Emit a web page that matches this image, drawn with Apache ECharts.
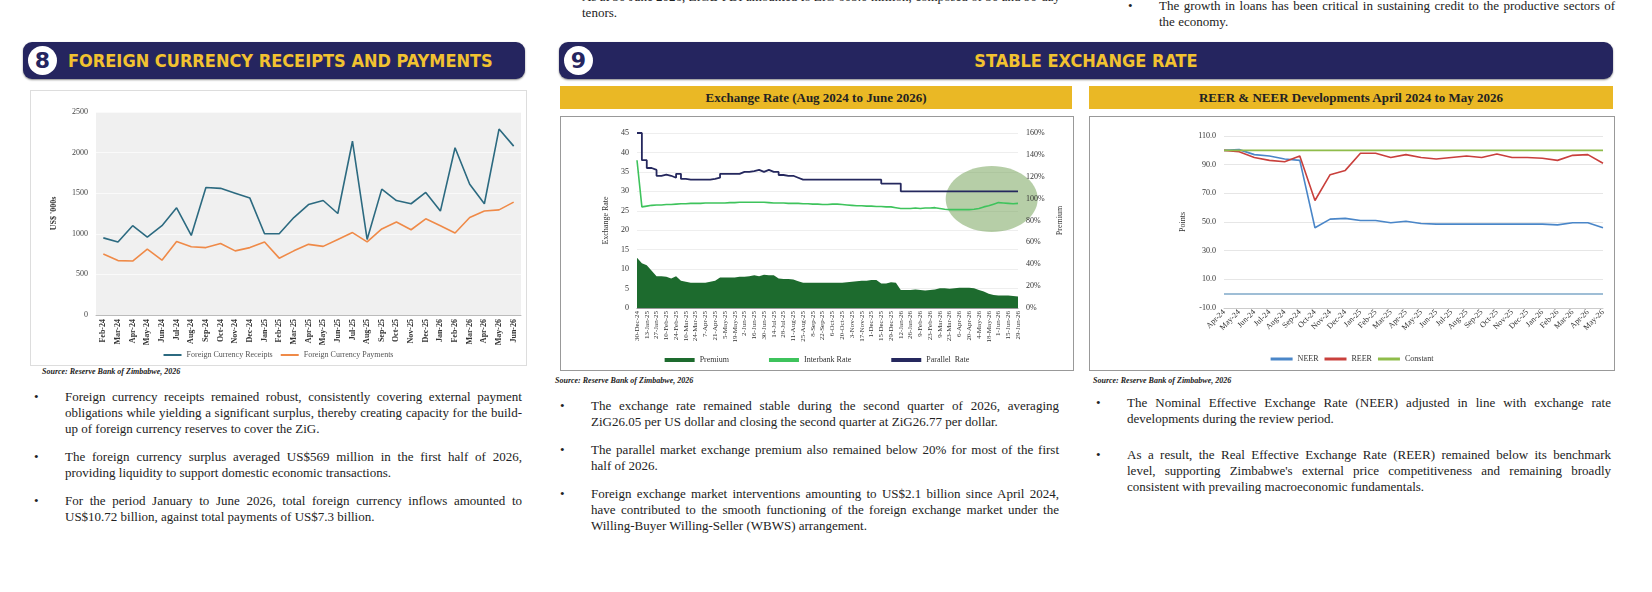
<!DOCTYPE html>
<html>
<head>
<meta charset="utf-8">
<script src="https://cdn.jsdelivr.net/npm/echarts@6/dist/echarts.min.js"></script>
<style>
body{margin:0;width:1652px;height:592px;background:#fff;position:relative;overflow:hidden;font-family:"Liberation Serif",serif;color:#222}
.hdr{position:absolute;background:#25255f;border-radius:9px;box-shadow:0 1px 2px #888;color:#f2c230;font-family:"DejaVu Sans Condensed","Liberation Sans",sans-serif;font-weight:bold;font-size:18px;line-height:37px;height:37px}
.num{position:absolute;left:5px;top:4px;width:29px;height:29px;border-radius:50%;background:#fff;color:#25255f;font-size:22px;line-height:29px;text-align:center;font-family:"DejaVu Sans",sans-serif;font-weight:bold}
.ybar{position:absolute;background:#eab825;color:#222;font-weight:bold;font-size:13px;text-align:center;line-height:23px;height:23px}
.box{position:absolute;border:1px solid #999;background:#fff}
.src{position:absolute;font-size:8px;font-style:italic;font-weight:bold}
.bul{position:absolute;font-size:13px;line-height:16px;text-align:justify}
.bul p{margin:0 0 12px 0;position:relative}
.bul p:before{content:"•";position:absolute;left:-31px}
</style>
</head>
<body>
<div class="bul" style="left:582px;top:-11px;width:478px"><p style="margin:0">As at 30 June 2026, ZiGB FDI amounted to ZiG 605.0 million, composed of 30 and 90-day tenors.</p></div>
<div class="bul" style="left:1159px;top:-2px;width:456px"><p style="margin:0">The growth in loans has been critical in sustaining credit to the productive sectors of the economy.</p></div>

<div class="hdr" style="left:23px;top:42px;width:502px"><div class="num">8</div><span style="position:absolute;left:45px">FOREIGN CURRENCY RECEIPTS AND PAYMENTS</span></div>
<div class="hdr" style="left:559px;top:42px;width:1054px;text-align:center"><div class="num">9</div>STABLE EXCHANGE RATE</div>

<div class="box" style="left:30px;top:90px;width:495px;height:274px;border-color:#ddd"><div id="c1" style="width:495px;height:274px"></div></div>
<div class="src" style="left:42px;top:367px">Source: Reserve Bank of Zimbabwe, 2026</div>

<div class="ybar" style="left:560px;top:86px;width:512px">Exchange Rate (Aug 2024 to June 2026)</div>
<div class="box" style="left:560px;top:116px;width:512px;height:253px"><div id="c2" style="width:512px;height:253px"></div></div>
<div class="src" style="left:555px;top:376px">Source: Reserve Bank of Zimbabwe, 2026</div>

<div class="ybar" style="left:1089px;top:86px;width:524px">REER &amp; NEER Developments April 2024 to May 2026</div>
<div class="box" style="left:1089px;top:116px;width:524px;height:253px"><div id="c3" style="width:524px;height:253px"></div></div>
<div class="src" style="left:1093px;top:376px">Source: Reserve Bank of Zimbabwe, 2026</div>

<div class="bul" style="left:65px;top:389px;width:457px">
<p>Foreign currency receipts remained robust, consistently covering external payment obligations while yielding a significant surplus, thereby creating capacity for the build-up of foreign currency reserves to cover the ZiG.</p>
<p>The foreign currency surplus averaged US$569 million in the first half of 2026, providing liquidity to support domestic economic transactions.</p>
<p>For the period January to June 2026, total foreign currency inflows amounted to US$10.72 billion, against total payments of US$7.3 billion.</p>
</div>
<div class="bul" style="left:591px;top:398px;width:468px">
<p>The exchange rate remained stable during the second quarter of 2026, averaging ZiG26.05&nbsp;per US dollar and closing the second quarter at ZiG26.77 per dollar.</p>
<p>The parallel market exchange premium also remained below 20% for most of the first half of 2026.</p>
<p>Foreign exchange market interventions amounting to US$2.1 billion since April 2024, have contributed to the smooth functioning of the foreign exchange market under the Willing-Buyer Willing-Seller (WBWS) arrangement.</p>
</div>
<div class="bul" style="left:1127px;top:395px;width:484px">
<p style="margin-bottom:20px">The Nominal Effective Exchange Rate (NEER) adjusted in line with exchange rate developments during the review period.</p>
<p>As a result, the Real Effective Exchange Rate (REER) remained below its benchmark level,&nbsp;supporting Zimbabwe's external price competitiveness and remaining broadly consistent with prevailing macroeconomic fundamentals.</p>
</div>

<script>
// chart 8 data
var months1 = ['Feb-24','Mar-24','Apr-24','May-24','Jun-24','Jul-24','Aug-24','Sep-24','Oct-24','Nov-24','Dec-24','Jan-25','Feb-25','Mar-25','Apr-25','May-25','Jun-25','Jul-25','Aug-25','Sep-25','Oct-25','Nov-25','Dec-25','Jan-26','Feb-26','Mar-26','Apr-26','May-26','Jun-26'];
var receipts = [950,900,1100,960,1100,1320,980,1570,1560,1500,1440,1000,1000,1200,1360,1410,1250,2140,930,1550,1410,1370,1510,1280,2060,1610,1370,2290,2080];
var payments = [750,670,665,810,675,905,840,830,880,790,830,900,700,790,870,845,930,1015,900,1060,1145,1050,1185,1100,1010,1200,1280,1295,1390];

// chart 9 data (weekly from 30-Dec-24)
var parallelRate = [45,38,36,35.5,34,34.3,34,33.5,34.5,33.2,33,33,33,33,33,33.2,33.5,34.5,34.5,34.5,34.5,35,35,35.2,35.5,35,35.5,35,35,34.2,34,34,33.5,33,33,33,33,33,33,33,33,33,33,33,33,33,33,33,33,33,32,32,32,32,30,30,30,30,30,30,30,30,30,30,30,30,30,30,30,30,30,30,30,30,30,30,30,30,30];
var interbank = [38,26,26.2,26.4,26.5,26.5,26.6,26.6,26.7,26.8,26.8,26.9,26.9,26.9,27,27,27,27,27,27.1,27.1,27.2,27.2,27.2,27.2,27.2,27.2,27.1,27,27,27,26.9,26.9,26.9,26.8,26.8,26.7,26.7,26.6,26.6,26.7,26.7,26.6,26.5,26.4,26.3,26.3,26.2,26.2,26.1,26.1,26,26,25.8,25.6,25.6,25.6,25.7,25.6,25.7,25.7,25.8,25.6,25.4,25.3,25.3,25.3,25.3,25.3,25.4,25.6,26,26.3,26.7,27.1,27,26.9,26.8,26.9];
var premium = [46,41,39,34,29,29,28.5,27,29,25,24,23,23,23,23,24,25,28,28,28,28,28.5,28.5,29,30,29,30.5,30,30,27,26.5,26.5,26,24.5,23,23,23,23,23,23,23,23,23,23.5,24,24.5,25,25,25.5,25.5,22.5,22.5,23.5,23,16.5,16.5,16.5,17,16.5,16,16.5,17,18,18,17.5,18,18.5,18.5,18.5,18,16.5,15,13,12,11.5,11.5,11.5,11,10.5];
var mon = ['Jan','Feb','Mar','Apr','May','Jun','Jul','Aug','Sep','Oct','Nov','Dec'];
var weeks = [];
var d0 = new Date(2024, 11, 30);
for (var i = 0; i < premium.length; i++) {
    var d = new Date(d0.getTime() + i * 7 * 86400000);
    weeks.push(d.getDate() + '-' + mon[d.getMonth()] + '-' + String(d.getFullYear()).slice(2));
}

// REER / NEER data
var months3 = ['Apr-24','May-24','Jun-24','Jul-24','Aug-24','Sep-24','Oct-24','Nov-24','Dec-24','Jan-25','Feb-25','Mar-25','Apr-25','May-25','Jun-25','Jul-25','Aug-25','Sep-25','Oct-25','Nov-25','Dec-25','Jan-26','Feb-26','Mar-26','Apr-26','May-26'];
var neer = [100,100.5,97,96,94,93,46,52,52.5,51,51,49.5,50.5,49,48.5,48.5,48.5,48.5,48.5,48.5,48.5,48.5,48,49.5,49.5,46];
var reer = [100,99,95,93,92,96,65,83,86,98,98,95,97,95,94,95,96,95,97.5,95,95,94.5,93,96.5,97,91];
var constant = [100,100,100,100,100,100,100,100,100,100,100,100,100,100,100,100,100,100,100,100,100,100,100,100,100,100];

var serif = 'Liberation Serif';

var c1 = echarts.init(document.getElementById('c1'));
c1.setOption({
    animation: false,
    textStyle: {fontFamily: serif},
    grid: {left: 65, right: 5, top: 21, bottom: 50, show: true, backgroundColor: '#f0f0f0', borderWidth: 0},
    legend: {bottom: 1, itemWidth: 18, itemHeight: 2, icon: 'rect', textStyle: {fontSize: 8, color: '#555'},
        data: ['Foreign Currency Receipts', 'Foreign Currency Payments']},
    xAxis: {type: 'category', data: months1, boundaryGap: true,
        axisLine: {lineStyle: {color: '#bbb'}}, axisTick: {show: false},
        axisLabel: {rotate: 90, interval: 0, fontSize: 8, fontWeight: 'bold', color: '#333', margin: 4}},
    yAxis: {type: 'value', min: 0, max: 2500, interval: 500, name: "US$ '000s", nameLocation: 'middle', nameGap: 38,
        nameTextStyle: {fontSize: 8, fontWeight: 'bold', color: '#333'},
        axisLabel: {fontSize: 8, color: '#444', formatter: function (v) { return String(v); }}, splitLine: {lineStyle: {color: '#fafafa'}}},
    series: [
        {name: 'Foreign Currency Receipts', type: 'line', data: receipts, symbol: 'none', lineStyle: {color: '#2c6a80', width: 1.6}, itemStyle: {color: '#2c6a80'}},
        {name: 'Foreign Currency Payments', type: 'line', data: payments, symbol: 'none', lineStyle: {color: '#ef8a48', width: 1.6}, itemStyle: {color: '#ef8a48'}}
    ]
});

var c2 = echarts.init(document.getElementById('c2'));
c2.setOption({
    animation: false,
    textStyle: {fontFamily: serif},
    grid: {left: 76, right: 55, top: 16, bottom: 62},
    legend: {bottom: 1, itemGap: 40, textStyle: {fontSize: 8, color: '#333'},
        data: [{name: 'Premium', icon: 'rect', itemStyle: {color: '#1d6b2e'}},
               {name: 'Interbank Rate', icon: 'rect'}, {name: 'Parallel  Rate', icon: 'rect'}],
        itemWidth: 30, itemHeight: 4},
    xAxis: {type: 'category', data: weeks, boundaryGap: false,
        axisLine: {lineStyle: {color: '#999'}}, axisTick: {show: false},
        axisLabel: {rotate: 90, interval: 1, fontSize: 7, color: '#333', margin: 3}},
    yAxis: [
        {type: 'value', min: 0, max: 45, interval: 5, name: 'Exchange Rate', nameLocation: 'middle', nameGap: 24,
            nameTextStyle: {fontSize: 8, color: '#333'}, axisLabel: {fontSize: 8, color: '#333'},
            splitLine: {lineStyle: {color: '#eee'}}},
        {type: 'value', min: 0, max: 160, interval: 20, position: 'right', name: 'Premium', nameLocation: 'middle', nameGap: 34,
            nameTextStyle: {fontSize: 8, color: '#333'}, axisLabel: {fontSize: 8, color: '#333', formatter: '{value}%'},
            splitLine: {show: false}}
    ],
    series: [
        {name: 'Premium', type: 'line', yAxisIndex: 1, data: premium, symbol: 'none', lineStyle: {width: 0},
            areaStyle: {color: '#1d6b2e', opacity: 1}, itemStyle: {color: '#1d6b2e'}, z: 1},
        {name: 'Interbank Rate', type: 'line', data: interbank, symbol: 'none', lineStyle: {color: '#3ec35c', width: 1.6}, itemStyle: {color: '#3ec35c'}, z: 3},
        {name: 'Parallel  Rate', type: 'line', data: parallelRate, symbol: 'none', step: 'end', lineStyle: {color: '#25285e', width: 1.8}, itemStyle: {color: '#25285e'}, z: 3}
    ]
});
// highlight ellipse around recent period
var ctr = c2.convertToPixel({xAxisIndex: 0, yAxisIndex: 0}, [weeks[72], 28]);
c2.setOption({graphic: [{type: 'ellipse', shape: {cx: ctr[0] + 3, cy: ctr[1], rx: 46, ry: 33},
    style: {fill: 'rgba(122,165,95,0.55)'}, z: 0}]});

var c3 = echarts.init(document.getElementById('c3'));
c3.setOption({
    animation: false,
    textStyle: {fontFamily: serif},
    grid: {left: 134, right: 11, top: 19, bottom: 62},
    legend: {bottom: 2, itemWidth: 22, itemHeight: 3, icon: 'rect', itemGap: 6, textStyle: {fontSize: 8, color: '#333'},
        data: ['NEER', 'REER', 'Constant']},
    xAxis: {type: 'category', data: months3, boundaryGap: false,
        axisLine: {onZero: false, lineStyle: {color: '#ccc'}}, axisTick: {show: false},
        axisLabel: {rotate: 45, interval: 0, fontSize: 8, color: '#333', margin: 3}},
    yAxis: {type: 'value', min: -10, max: 110, interval: 20, name: 'Points', nameLocation: 'middle', nameGap: 32,
        nameTextStyle: {fontSize: 8, color: '#333'}, axisLabel: {fontSize: 8, color: '#333', formatter: function (v) { return v.toFixed(1); }},
        axisLine: {show: false}, splitLine: {lineStyle: {color: '#e6e6e6'}}},
    series: [
        {name: 'NEER', type: 'line', data: neer, symbol: 'none', lineStyle: {color: '#4a86c8', width: 1.6}, itemStyle: {color: '#4a86c8'},
            markLine: {silent: true, symbol: 'none', label: {show: false}, lineStyle: {color: '#7fa9c9', width: 1.5, type: 'solid'}, data: [{yAxis: 0}]}},
        {name: 'REER', type: 'line', data: reer, symbol: 'none', lineStyle: {color: '#c9403c', width: 1.6}, itemStyle: {color: '#c9403c'}},
        {name: 'Constant', type: 'line', data: constant, symbol: 'none', lineStyle: {color: '#8fbc4a', width: 1.8}, itemStyle: {color: '#8fbc4a'}}
    ]
});
</script>
</body>
</html>
